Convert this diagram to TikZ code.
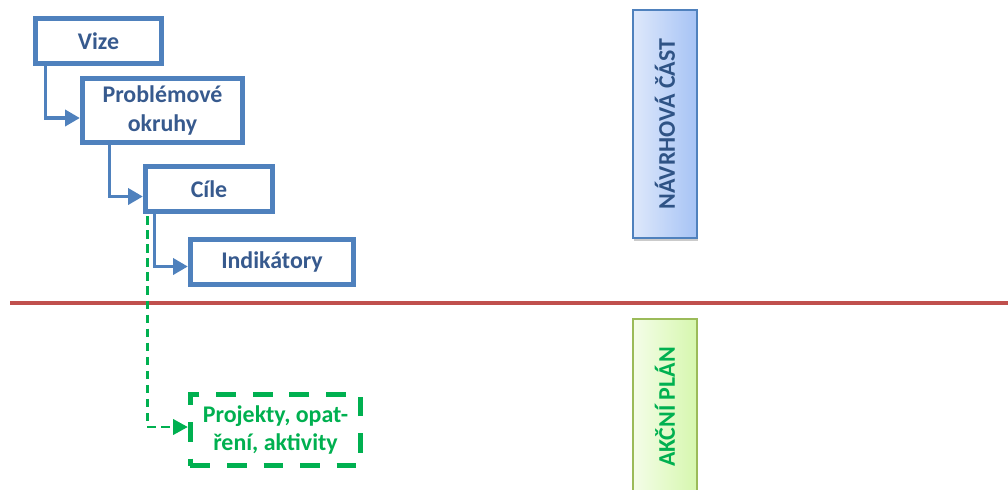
\documentclass[tikz,border=0pt]{standalone}
\usepackage{fontspec}
\setmainfont{Carlito}
\usepackage{xcolor}
\usepackage{tikz}
\usetikzlibrary{arrows.meta}
\usetikzlibrary{calc}
\usetikzlibrary{shadows}

\definecolor{boxblue}{HTML}{4F81BD}
\definecolor{txtblue}{HTML}{375A8E}
\definecolor{navblue}{HTML}{2F5385}
\definecolor{apgreen}{HTML}{00B050}
\definecolor{apborder}{HTML}{9BBB59}
\definecolor{sepred}{HTML}{C0504D}

\begin{document}
\begin{tikzpicture}[x=0.025cm,y=-0.025cm,
  level/.style={draw=boxblue,line width=3.8pt,fill=white,inner sep=0pt,align=center,
    text=txtblue,font=\fontsize{17}{20}\selectfont\bfseries},
  plan/.style={draw=apgreen,line width=3.8pt,dash pattern=on 14pt off 12pt,fill=white,
    inner sep=0pt,align=center,text=apgreen,font=\fontsize{17}{20.5}\selectfont\bfseries},
  link/.style={draw=boxblue,line width=2.3pt,-{Triangle[length=10.5pt,width=11.5pt]}},
  planlink/.style={draw=apgreen,line width=1.8pt,dash pattern=on 6pt off 4pt,
    -{Triangle[length=10.5pt,width=11pt]}},
  part/.style={line width=1.4pt,inner sep=0pt,minimum width=1.6cm,
    drop shadow={shadow xshift=0.6pt,shadow yshift=-2pt,fill=black!45,opacity=0.45}},
  parttext/.style={rotate=90,font=\fontsize{17}{20}\selectfont\bfseries}]
\useasboundingbox (0,0) rectangle (1008,489);
\clip (0,0) rectangle (1008,489);

%boxes of the proposal part
\node[level,minimum width=3.15cm,minimum height=1.125cm] (vize) at (98.5,41) {Vize};
\node[level,minimum width=4cm,minimum height=1.6cm] (okruhy) at (162.5,110.5) {Problémové\\okruhy};
\node[level,minimum width=3.175cm,minimum height=1.125cm] (cile) at (209,189) {Cíle};
\node[level,minimum width=4.075cm,minimum height=1.125cm] (indik) at (272,262) {Indikátory};

%box of the action plan
\node[plan,minimum width=4.25cm,minimum height=1.775cm] (projekty) at (275.5,430) {Projekty, opat-\\ření, aktivity};

%separating line
\draw[sepred,line width=2.8pt] (10,303)--(1008,303);

%side labels
\node[part,draw=boxblue,left color={rgb,255:red,222;green,232;blue,251},right color={rgb,255:red,166;green,195;blue,245},
  minimum height=5.7cm] (navrh) at (665,124) {};
\node[parttext,text=navblue] (navrhtext) at (navrh.center) {NÁVRHOVÁ ČÁST};
\node[part,draw=apborder,left color={rgb,255:red,244;green,253;blue,232},right color={rgb,255:red,214;green,247;blue,174},
  minimum height=4.4cm] (akcni) at (665,407) {};
\node[parttext,text=apgreen] (akcnitext) at (akcni.center) {AKČNÍ PLÁN};

%connectors
\draw[link] ($(vize.south west)+(12.5,0)$) |- ($(okruhy.west)+(0,7.5)$);
\draw[link] ($(okruhy.south west)+(29.5,0)$) |- ($(cile.west)+(0,7.5)$);
\draw[link] ($(cile.south west)+(11.5,0)$) |- ($(indik.west)+(0,4.5)$);
\draw[planlink] ($(cile.south west)+(4.5,2)$) |- ($(projekty.west)+(0,-3)$);
\end{tikzpicture}
\end{document}
